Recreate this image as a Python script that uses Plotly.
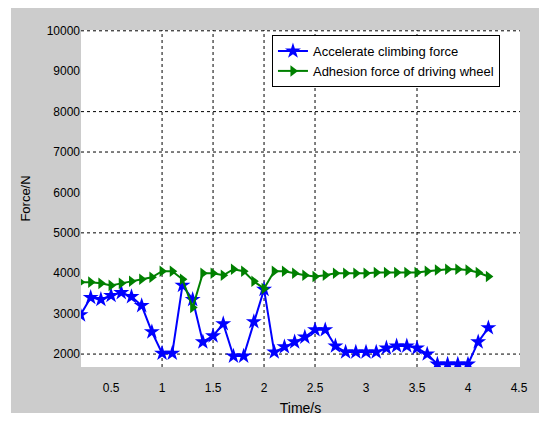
import plotly.graph_objects as go

time_s = [0.2, 0.3, 0.4, 0.5, 0.6, 0.7, 0.8, 0.9, 1.0, 1.1,
          1.2, 1.3, 1.4, 1.5, 1.6, 1.7, 1.8, 1.9, 2.0, 2.1,
          2.2, 2.3, 2.4, 2.5, 2.6, 2.7, 2.8, 2.9, 3.0, 3.1,
          3.2, 3.3, 3.4, 3.5, 3.6, 3.7, 3.8, 3.9, 4.0, 4.1, 4.2]

climbing_force = [2970, 3400, 3350, 3450, 3520, 3420, 3200, 2550, 2020, 2020,
                  3700, 3350, 2300, 2450, 2750, 1950, 1950, 2800, 3600, 2050,
                  2180, 2300, 2420, 2600, 2600, 2200, 2050, 2050, 2050, 2050,
                  2150, 2200, 2200, 2150, 2000, 1750, 1750, 1750, 1750, 2300, 2650]

adhesion_force = [3780, 3780, 3750, 3700, 3750, 3800, 3850, 3900, 4050, 4050,
                  3850, 3150, 4000, 4000, 3950, 4100, 4050, 3800, 3620, 4050,
                  4050, 4000, 3950, 3920, 3950, 4000, 4000, 4000, 4000, 4020,
                  4020, 4020, 4020, 4020, 4050, 4080, 4100, 4100, 4080, 4020, 3920]

x_ticks = [0.5, 1, 1.5, 2, 2.5, 3, 3.5, 4, 4.5]
x_tick_text = ["0.5", "1", "1.5", "2", "2.5", "3", "3.5", "4", "4.5"]
y_ticks = [2000, 3000, 4000, 5000, 6000, 7000, 8000, 9000, 10000]
y_tick_text = ["2000", "3000", "4000", "5000", "6000", "7000", "8000", "9000", "10000"]
grid_x = [1, 1.5, 2, 2.5, 3.5]
grid_y = [2000, 5000, 7000, 8000, 10000]

FONT = "Liberation Sans, Arial, sans-serif"

fig = go.Figure()
fig.add_trace(go.Scatter(
    x=time_s, y=climbing_force, mode="lines+markers",
    name="Accelerate climbing force",
    line=dict(color="rgb(0,0,255)", width=2),
    marker=dict(symbol="star", size=12, color="rgb(0,0,255)"),
))
fig.add_trace(go.Scatter(
    x=time_s, y=adhesion_force, mode="lines+markers",
    name="Adhesion force of driving wheel",
    line=dict(color="rgb(0,128,0)", width=2),
    marker=dict(symbol="triangle-right", size=10, color="rgb(0,128,0)"),
))

shapes = [
    dict(type="rect", xref="paper", yref="paper", x0=-0.1595, x1=1.06,
         y0=-0.1365, y1=1.0653, fillcolor="#cccccc", line=dict(width=0),
         layer="below"),
    dict(type="rect", xref="paper", yref="paper", x0=0, x1=1,
         y0=0, y1=1, fillcolor="white", line=dict(width=0),
         layer="below"),
]
for gx in grid_x:
    shapes.append(dict(type="line", xref="x", yref="paper", x0=gx, x1=gx,
                       y0=0, y1=1, line=dict(color="black", width=1, dash="dot"),
                       layer="below"))
for gy in grid_y:
    shapes.append(dict(type="line", xref="paper", yref="y", x0=0, x1=1,
                       y0=gy, y1=gy, line=dict(color="black", width=1, dash="dot"),
                       layer="below"))

fig.update_layout(
    width=539, height=423,
    margin=dict(l=81, r=19, t=30, b=56),
    paper_bgcolor="white", plot_bgcolor="white",
    font=dict(family=FONT, size=12, color="black"),
    shapes=shapes,
    showlegend=True,
    hovermode=False,
    legend=dict(x=0.435, y=0.985, xanchor="left", yanchor="top",
                bgcolor="white", bordercolor="black", borderwidth=1,
                font=dict(family=FONT, size=13, color="black"),
                tracegroupgap=0, itemwidth=30),
)
fig.update_xaxes(
    range=[0.205, 4.51], tickvals=x_ticks, ticktext=x_tick_text,
    showgrid=False, zeroline=False, showline=False, ticks="",
    ticklabelstandoff=12, automargin=False,
    title=dict(text="Time/s", font=dict(family=FONT, size=14), standoff=9),
)
fig.update_yaxes(
    range=[1680, 10020], tickvals=y_ticks, ticktext=y_tick_text,
    showgrid=False, zeroline=False, showline=False, ticks="",
    automargin=False,
    title=dict(text="Force/N", font=dict(family=FONT, size=13), standoff=13),
)

fig.write_html(
    "out.html",
    config={"displayModeBar": False},
    post_script="document.body.style.margin='0';document.body.style.overflow='hidden';",
)
